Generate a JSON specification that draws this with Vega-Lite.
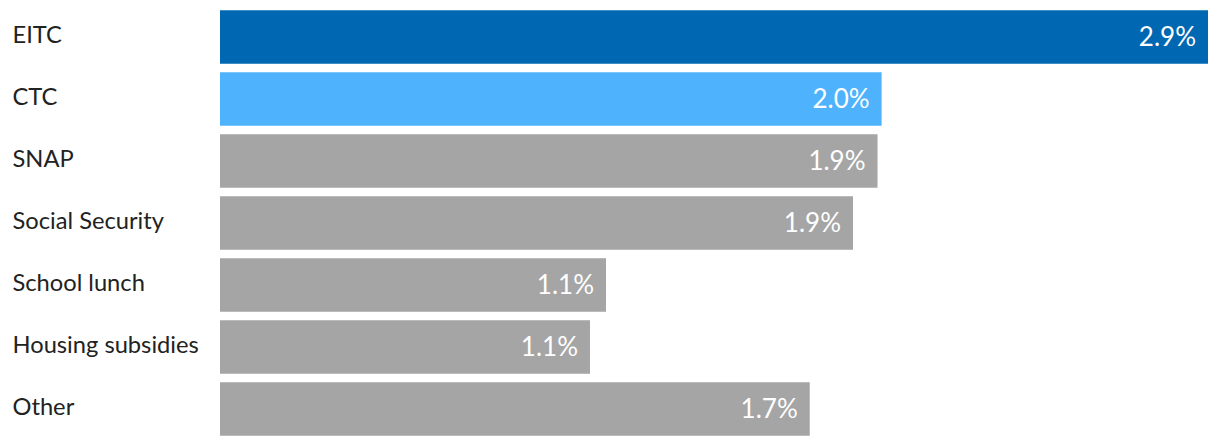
{
  "$schema": "https://vega.github.io/schema/vega-lite/v6.json",
  "width": 988,
  "height": 434,
  "autosize": {"type": "none"},
  "padding": {"left": 220, "top": 6, "right": 12, "bottom": 6},
  "background": "white",
  "config": {"view": {"stroke": null}, "font": "Lato"},
  "data": {
    "values": [
      {"program": "EITC", "value": 2.9, "label": "2.9%", "group": "EITC"},
      {"program": "CTC", "value": 1.942, "label": "2.0%", "group": "CTC"},
      {"program": "SNAP", "value": 1.930, "label": "1.9%", "group": "Other"},
      {"program": "Social Security", "value": 1.858, "label": "1.9%", "group": "Other"},
      {"program": "School lunch", "value": 1.133, "label": "1.1%", "group": "Other"},
      {"program": "Housing subsidies", "value": 1.086, "label": "1.1%", "group": "Other"},
      {"program": "Other", "value": 1.731, "label": "1.7%", "group": "Other"}
    ]
  },
  "encoding": {
    "y": {
      "field": "program",
      "type": "nominal",
      "sort": null,
      "scale": {"paddingInner": 0.137, "paddingOuter": 0.0685},
      "axis": {
        "title": null,
        "domain": false,
        "ticks": false,
        "labelAlign": "left",
        "labelPadding": 208,
        "labelFont": "Lato",
        "labelFontSize": 23.7,
        "labelColor": "#222222",
        "labelLimit": 300,
        "labelOffset": -1
      }
    },
    "x": {
      "field": "value",
      "type": "quantitative",
      "scale": {"domain": [0, 2.9], "nice": false},
      "axis": null
    }
  },
  "layer": [
    {
      "mark": {"type": "bar"},
      "encoding": {
        "color": {
          "field": "group",
          "type": "nominal",
          "scale": {"domain": ["EITC", "CTC", "Other"], "range": ["#0068b2", "#4eb3fc", "#a5a5a5"]},
          "legend": null
        }
      }
    },
    {
      "mark": {"type": "text", "align": "right", "baseline": "middle", "dx": -12, "dy": 1, "color": "white", "font": "Lato", "fontSize": 26},
      "encoding": {"text": {"field": "label"}}
    }
  ]
}
